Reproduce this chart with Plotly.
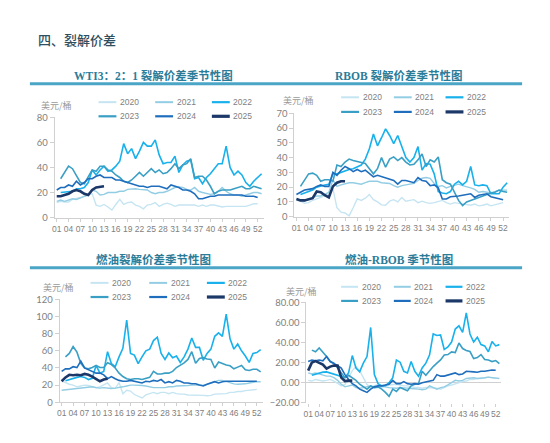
import plotly.graph_objects as go

# seasonal crack spreads, USD/bbl, by week of year
years = ["2020", "2021", "2022", "2023", "2024", "2025"]
colors = ["#c6e5f2", "#93cde4", "#18b1ec", "#3a9fc4", "#1f6ebd", "#1b3868"]
widths = [1.4, 1.4, 1.6, 1.6, 1.6, 2.6]
week_ticks = [1, 4, 7, 10, 13, 16, 19, 22, 25, 28, 31, 34, 37, 40, 43, 46, 49, 52]
week_labels = ["%02d" % w for w in week_ticks]

# WTI 3:2:1
wti_2020 = [12, 13, 12.5, 12.5, 14.5, 15, 16, 17, 18.5, 19, 10, 9, 10.5, 8.5, 6, 10.5, 14.5, 10.5, 12, 12.5,
            10, 9, 7, 10, 10.5, 12, 9, 10.5, 11.5, 10.5, 9, 10, 10, 10.5, 10.5, 10, 9, 10, 9, 10,
            10, 9, 8.5, 9, 9, 9, 9, 9, 9, 10, 11, 11]
wti_2021 = [13, 14, 13, 14, 15, 14.5, 16, 17, 18, 22, 21, 18, 18.5, 20, 20, 20, 21, 21, 22.5, 23,
            23, 22.5, 22.5, 22, 20, 19, 20, 20, 21, 22.5, 24, 24.5, 24, 22.5, 22, 24, 21, 20, 19, 18.5,
            19, 21, 24, 21, 19, 18, 18, 17, 18, 19, 20, 20, 19]
wti_2022 = [None, 20, 20.5, 21, 21, 23, 23, 24, 28, 38, 34, 38, 41, 37, 38, 41, 45, 59, 51, 55,
            47, 53, 60, 57, 57, 62, 50, 43, 44, 44, 49, 36, 42, 45, 46, 31, 32, 27, 32, 35,
            39, 43, 43, 57, 40, 34, 37, 34, 28, 25, 29, 32, 35]
wti_2023 = [None, 31, 36, 41, 39, 33, 28, 27, 32, 38, 37, 41, 41, 38, 37, 34, 32, 29, 28, 30,
            33, 36, 33, 36, 39, 36, 38, 35, 36, 39, 43, 39, 42, 43, 47, 32, 33, 33, 30, 25,
            19, 21, 22, 22, 22, 23, 24, 25, 23, 23, 25, 24, 23]
wti_2024 = [22, 24, 24, 26, 25, 29, 26, 28, 31, 31, 33, 34, 32, 32, 32, 30, 30, 29, 28, 27,
            26, 25, 25, 24, 25, 25, 25, 24, 23, 26, 25, 24, 22, 22, 21, 19, 15, 15, 16, 17,
            17, 18, 18, 18, 18, 18.5, 18.5, 18, 17, 17, 17, 16]
wti_2025 = [17, 17, 18, 19, 21, 22, 21, 19, 18, 22, 24, 24.5, 25]

# RBOB
rbob_2020 = [11, 10.5, 9, 9.5, 11, 12, 13, 14, 16, 19, 6, 3, 2.5, 0.5, 6, 12, 11, 12.5, 15, 11.5,
             10, 8, 7.7, 10.5, 11.5, 10, 13, 10.5, 11, 11.5, 9.5, 10.5, 9.5, 9, 9.5, 10.5, 11, 9.5, 8.5, 9.5,
             9, 8.5, 7.7, 7.7, 8.5, 7.3, 7.7, 8.5, 7.3, 8.2, 9, 9.5]
rbob_2021 = [12, 11, 10.5, 12, 13, 14, 14, 15.5, 16.5, 25, 20.5, 21.5, 22.5, 23, 23, 22.5, 22, 23, 24, 24,
             24, 23, 23, 22.5, 21, 20, 21, 21.5, 22, 22.5, 24.5, 26, 26.5, 26, 22.5, 20.5, 21, 19.5, 20.5, 21.5,
             22, 21, 20.5, 19.5, 18.5, 16.5, 17, 16.5, 16, 17, 18, 18, 18]
rbob_2022 = [None, 15, 16, 17, 18, 20, 21, 21.5, 22, 29, 29, 30, 31.5, 32, 32.5, 33.5, 35, 39, 46, 56,
             48, 53.5, 59.5, 55, 49.5, 55, 47, 40, 37, 40, 47.5, 31.5, 36, 35.5, 29, 17, 16, 15.5, 17, 22,
             24, 21.5, 24, 34, 21.5, 21, 21.5, 21, 15.5, 15.5, 15.5, 20, 23]
rbob_2023 = [None, 20.5, 25, 29, 29.5, 28, 24, 25, 25, 24, 35, 34, 37, 39, 38, 37.5, 37, 36, 32.5, 29,
             32.5, 40, 33.5, 39, 40.5, 38, 40, 37, 35, 35.5, 38.5, 42.5, 34, 38.5, 37, 40.5, 25, 23, 22, 17,
             11, 7.5, 10, 11, 12, 13.5, 14.5, 15.5, 16, 16.5, 18, 17, 16.5]
rbob_2024 = [15, 16.5, 18, 18.5, 19, 20.5, 21.5, 20.5, 20.5, 30, 28, 31.5, 34, 32.5, 30.5, 32, 30.5, 31.5, 29, 27,
             28, 27, 26, 25, 24.5, 22, 24.5, 24.5, 24, 23, 26.5, 24.5, 24, 21, 21.5, 19.5, 12, 12, 13.5, 13.5,
             14, 14.5, 15, 15.5, 13, 14.5, 15, 15.5, 13.5, 13, 12, 11.5]
rbob_2025 = [12, 11, 11, 11.5, 12.5, 17, 16.5, 14.5, 13, 20.5, 23, 24, 24]

# fuel oil crack
fo_2020 = [25, 22.5, 21, 20, 18, 19, 20, 19.5, 18, 17, 18, 20, 22.5, 17, 16, 23, 10, 14, 13, 9,
           7, 5, 8.5, 10, 11.5, 10, 11.5, 11.5, 10, 11.5, 10, 9.5, 9.5, 8.5, 8.5, 8.5, 8.5, 8, 7.5, 8,
           9.5, 9.5, 9.5, 10, 11.5, 11.5, 12.5, 12.5, 13.5, 14, 15, 15]
fo_2021 = [14, 14.5, 15, 15, 16, 16, 16.5, 17, 18, 17, 16.5, 17, 16.5, 16, 16.5, 17, 18, 19, 20, 20,
           20, 19.5, 19, 18, 17, 17, 17, 17, 18, 18, 19, 19, 19.5, 19.5, 20, 20, 19.5, 20, 21, 22.5,
           24.5, 25.5, 25.5, 24, 22.5, 21.5, 21, 21, 21.5, 22.5, 23.5, 24, 24]
fo_2022 = [None, 25, 26.5, 27.5, 29, 30, 29, 26.5, 28, 43, 34, 36, 59, 45, 41.5, 53, 63, 96, 57, 55,
           45, 53, 60, 62, 72, 76, 57, 50, 57.5, 52, 54, 46.5, 53, 62, 75, 64, 64, 49, 57, 62,
           77, 81, 77, 103, 74, 62, 68, 60, 54, 46.5, 57, 58, 61.5]
fo_2023 = [None, 53, 57, 65, 58.5, 45.5, 40, 39, 40.5, 43, 40.5, 40.5, 46, 44, 40, 34, 30, 27.5, 26.5, 27.5,
           27.5, 26.5, 27.5, 29, 36, 33, 33, 34, 34, 36, 40.5, 43, 46, 50, 59, 45.5, 51, 52, 50.5, 50,
           40, 47, 45, 43.5, 42.5, 39, 41, 43, 38, 37, 38.5, 38.5, 35.5]
fo_2024 = [36, 39, 39, 41.5, 40.5, 48, 40, 38, 36, 34, 34, 32, 27.5, 30, 27.5, 25.5, 24.5, 24.5, 25.5, 24.5,
           24, 22.5, 24.5, 24, 25.5, 24.5, 26.5, 22.5, 24, 22.5, 25.5, 24.5, 22.5, 22.5, 21.5, 21.5, 20, 19, 21, 22.5,
           24, 22.5, 24, 24.5, 24.5, 24.5, 24.5, 24.5, 24, 24.5, 24.5, 24.5]
fo_2025 = [24.5, 29, 32, 31.5, 32, 31.5, 33, 32, 30, 27.5, 24.5, 26.5, 27.5]

# fuel oil - RBOB
spr_2020 = [2.3, 1.6, 3.2, 2.3, 1.6, 2.3, 3.2, 1.6, -1, -3, -2, 5, 12, 16, 12, 5, -2, -5, -3, -2,
            -2.3, -3.2, -2.3, -1.6, -1.6, -2.3, -3.2, -3.2, -4.2, -4.8, -4.8, -5.5, -4.8, -4.8, -5.5, -5.5, -6.5, -4.8, -3.2, -2.3,
            -1, 0, 1, 1.6, 3.2, 3.2, 4.2, 4.2, 4.8, 5.5, 4.8, 4.2]
spr_2021 = [9.7, 8.7, 9.7, 8.7, 7.4, 6.5, 6.5, 5, 2.3, -1.6, -4.2, -3.2, -2.3, -5, -5.5, -5, -4.2, -3.2, -5, -5,
            -4.2, -4.2, -5, -5.5, -5.5, -5, -5, -5.5, -5.8, -6.5, -6.5, -7, -6.5, -3.2, -5, -6.5, -5, -4.2, -2.3, 0,
            2.3, 1.6, 2.3, 4.2, 4.9, 4.9, 4.2, 4.9, 4.9, 5.5, 4.9, 4.9, 4.2]
spr_2022 = [None, 7.4, 8.5, 9.5, 10.5, 10.7, 9.7, 8.7, 7.5, 6.5, 5, 10, 27, 14.6, 10.7, 19.4, 26, 55, 8, -1,
            -3.2, -3, 0, 5, 22.6, 20.4, 11.3, 9.7, 21, 11.3, 6.5, 14.6, 19.4, 27.5, 48.5, 47, 47.5, 33, 35.6, 40.5,
            53.4, 56.6, 50, 69.6, 48.5, 40.5, 45.3, 37.9, 36.6, 30.7, 41, 36.6, 37.9]
spr_2023 = [None, 32.4, 30.7, 34.6, 30.7, 26, 21, 19.4, 14.6, 9.7, 4.9, 7.4, 5, 2.3, -1.6, -4.2, -6.5, -3.2, -4.9, -4.2,
            -6.5, -9.7, -13.6, -6.5, -8.7, -4.9, -6.5, -8, -3.2, -1.6, -1, 11.3, 7.4, 12, 16, 19.4, 22.6, 27.5, 28, 30.7,
            30, 39.5, 34, 32, 31, 24, 25, 28, 23, 22.5, 21, 22, 19]
spr_2024 = [21, 22.6, 21.7, 22.6, 21.7, 26, 21, 19.4, 17, 14.6, 8, 3.2, -1, -3.2, -6.5, -8, -9.7, -6.5, -4.2, -3.2,
            -3.2, -2.3, -1.6, 2.3, -1, -1, 1, -1, -1.6, -1, -1.6, 0, 1, 1.6, 2.3, 8, 6.5, 6.5, 7.4, 8.7,
            9.7, 8, 8.7, 11.3, 10.7, 10.7, 10.4, 11.3, 11.3, 12, 12.6, 12.3]
spr_2025 = [12, 20, 21.5, 20, 18, 14, 16, 17, 17, 5, 1.6, 2, 2]

# the page body keeps an 8px margin, so the figure is drawn 16px smaller
# and every position below is taken from the 550x443 picture minus 8px
OFF = 8
W, H = 550 - 2 * OFF, 443 - 2 * OFF
font_num = "Lato, Noto Sans CJK SC, sans-serif"
font_small = "Liberation Sans, Arial, sans-serif"
font_cn = "Noto Sans CJK SC, sans-serif"
grey = "#7f7f7f"


def px_x(v):
    return (v - OFF) / W


def px_y(v):
    return 1 - (v - OFF) / H


# each panel: title, series, y range, dtick, tick format, plot box (px), legend pos, unit label pos
panels = [
    {"title": "<b>WTI3：2：1 裂解价差季节性图</b>", "tx": 151, "ty": 71,
     "data": [wti_2020, wti_2021, wti_2022, wti_2023, wti_2024, wti_2025],
     "yr": [0, 80], "dt": 20, "fmt": "", "box": (52, 262, 217, 114),
     "leg_x": [96, 153, 210], "leg_w": 18, "leg_y": [98.5, 113], "unit": (36, 102)},
    {"title": "<b>RBOB 裂解价差季节性图</b>", "tx": 398, "ty": 71,
     "data": [rbob_2020, rbob_2021, rbob_2022, rbob_2023, rbob_2024, rbob_2025],
     "yr": [0, 70], "dt": 10, "fmt": "", "box": (293, 509, 216, 110),
     "leg_x": [340, 393, 445], "leg_w": 18, "leg_y": [93.5, 108.5], "unit": (280, 97)},
    {"title": "<b>燃油裂解价差季节性图</b>", "tx": 151, "ty": 260.5,
     "data": [fo_2020, fo_2021, fo_2022, fo_2023, fo_2024, fo_2025],
     "yr": [0, 120], "dt": 20, "fmt": "", "box": (57, 261, 406.5, 301),
     "leg_x": [88, 147, 205], "leg_w": 18, "leg_y": [284, 298.5], "unit": (38, 289)},
    {"title": "<b>燃油-RBOB 季节性图</b>", "tx": 398, "ty": 260.5,
     "data": [spr_2020, spr_2021, spr_2022, spr_2023, spr_2024, spr_2025],
     "yr": [-20, 80], "dt": 20, "fmt": ".2f", "box": (305, 501, 407, 304),
     "leg_x": [340, 393, 445], "leg_w": 17, "leg_y": [288, 302.5], "unit": (283, 292.5)},
]

fig = go.Figure()
shapes = []
annotations = [
    dict(text="四、裂解价差", x=px_x(33), y=px_y(34), xref="paper", yref="paper",
         xanchor="left", yanchor="middle", showarrow=False,
         font=dict(family=font_cn, size=13, color="#2f4f61", weight=500)),
]

# teal rules under the panel titles
for yy in [79.5, 268.5]:
    shapes.append(dict(type="line", xref="paper", yref="paper", x0=px_x(27), x1=px_x(522),
                       y0=px_y(yy), y1=px_y(yy), line=dict(color="#4ba5c6", width=3)))

for i, p in enumerate(panels):
    n = "" if i == 0 else str(i + 1)
    x0, x1, yb, yt = p["box"]
    for k, yr in enumerate(years):
        vals = p["data"][k]
        fig.add_trace(go.Scatter(x=list(range(1, len(vals) + 1)), y=vals, mode="lines",
                                 name=yr, showlegend=False, connectgaps=False,
                                 line=dict(color=colors[k], width=widths[k]),
                                 xaxis="x" + n, yaxis="y" + n))
    is_spread = p["yr"][0] < 0
    fig.layout["xaxis" + n] = dict(
        domain=[px_x(x0), px_x(x1)], anchor="y" + n, range=[0.5, 53.5],
        tickvals=week_ticks, ticktext=week_labels, tickangle=0, showgrid=False, zeroline=False,
        showline=not is_spread, linecolor="#d0d0d0", linewidth=1,
        ticks="outside", ticklen=3, tickcolor="#d0d0d0",
        tickfont=dict(family=font_small, size=8.5, color=grey))
    fig.layout["yaxis" + n] = dict(
        domain=[px_y(yb), px_y(yt)], anchor="x" + n, range=p["yr"], dtick=p["dt"],
        tickformat=p["fmt"], showgrid=False, zeroline=is_spread, zerolinecolor="#d0d0d0",
        zerolinewidth=1, showline=True, linecolor="#d0d0d0", linewidth=1,
        ticks="outside", ticklen=4, tickcolor="#d0d0d0",
        tickfont=dict(family=font_num, size=9.5, color=grey))

    annotations.append(dict(text=p["title"], x=px_x(p["tx"]), y=px_y(p["ty"]), xref="paper",
                            yref="paper", xanchor="center", yanchor="middle", showarrow=False,
                            font=dict(family="Liberation Serif, Noto Sans CJK SC, serif",
                                      size=11.5, color="#2b7c99")))
    annotations.append(dict(text="美元/桶", x=px_x(p["unit"][0]), y=px_y(p["unit"][1]),
                            xref="paper", yref="paper", xanchor="left", yanchor="middle",
                            showarrow=False, font=dict(family=font_cn, size=9, color="#9a9a9a")))

    # hand-drawn legend: 3 columns x 2 rows
    for k, yr in enumerate(years):
        lx = p["leg_x"][k % 3]
        ly = p["leg_y"][k // 3]
        shapes.append(dict(type="line", xref="paper", yref="paper",
                           x0=px_x(lx), x1=px_x(lx + p["leg_w"]), y0=px_y(ly), y1=px_y(ly),
                           line=dict(color=colors[k], width=widths[k] + 0.6)))
        annotations.append(dict(text=yr, x=px_x(lx + p["leg_w"] + 1.5), y=px_y(ly),
                                xref="paper", yref="paper", xanchor="left", yanchor="middle",
                                showarrow=False, font=dict(family=font_small, size=8.5, color=grey)))

fig.update_layout(width=W, height=H, margin=dict(l=0, r=0, t=0, b=0),
                  paper_bgcolor="white", plot_bgcolor="white",
                  shapes=shapes, annotations=annotations, showlegend=False)

fig.write_html("out.html")
